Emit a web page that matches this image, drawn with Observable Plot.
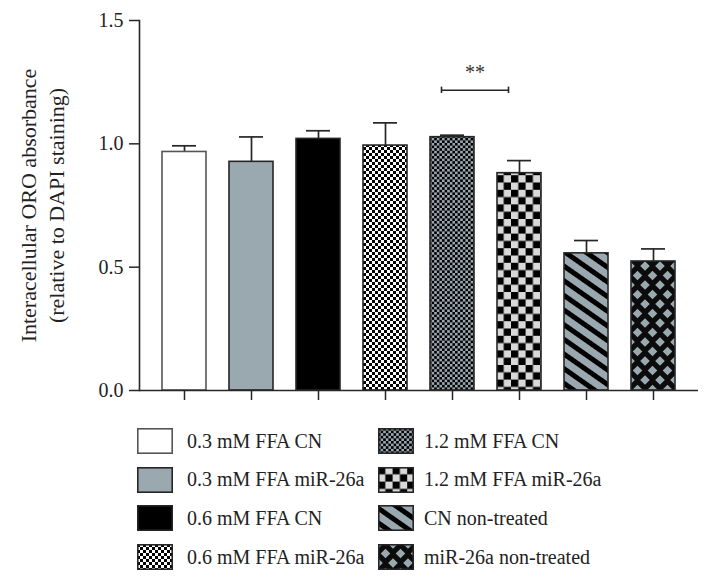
<!DOCTYPE html>
<html><head><meta charset="utf-8">
<script src="https://cdn.jsdelivr.net/npm/d3@7"></script>
<script src="https://cdn.jsdelivr.net/npm/@observablehq/plot@0.6"></script>
<style>
body{margin:0;background:#fff;font-family:"Liberation Serif",serif;}
#legend{position:relative;width:710px;height:176px;}
.item{position:absolute;display:flex;align-items:center;height:25px;font-size:20px;color:#222;white-space:nowrap;}
.item svg{display:block}
</style></head><body>
<div id="chart"></div><div id="legend"></div>
<script>
// ---- data ----
const categories = ["0.3 mM FFA CN","0.3 mM FFA miR-26a","0.6 mM FFA CN","0.6 mM FFA miR-26a","1.2 mM FFA CN","1.2 mM FFA miR-26a","CN non-treated","miR-26a non-treated"];
const means   = [0.967, 0.927, 1.020, 0.993, 1.027, 0.881, 0.556, 0.523];
const errTops = [0.992, 1.028, 1.053, 1.085, 1.035, 0.932, 0.608, 0.574];
const yTicks = [0, 0.5, 1.0, 1.5];
const sigFrom = "1.2 mM FFA CN";
const sigTo = "1.2 mM FFA miR-26a";
const sigY = 1.217;
const sigLabel = "**";
const yLabel = "Interacellular ORO absorbance\n(relative to DAPI staining)";

// ---- styles ----
const GREY = "#9aa8b0";
const INK = "#262626";
const paint = {
  "0.3 mM FFA CN": "#ffffff",
  "0.3 mM FFA miR-26a": GREY,
  "0.6 mM FFA CN": "#000000",
  "0.6 mM FFA miR-26a": "url(#pCheckFine)",
  "1.2 mM FFA CN": "url(#pCheckGrey)",
  "1.2 mM FFA miR-26a": "url(#pCheckLarge)",
  "CN non-treated": "url(#pStripes)",
  "miR-26a non-treated": "url(#pDiamonds)"
};
const strokeOf = c => c === "0.3 mM FFA CN" ? "#555" : INK;

function defsMark() {
  const d = d3.create("svg:defs");
  function checker(id, s, c1, c2) {
    const p = d.append("pattern").attr("id", id).attr("patternUnits", "userSpaceOnUse")
      .attr("width", 2 * s).attr("height", 2 * s);
    p.append("rect").attr("width", 2 * s).attr("height", 2 * s).attr("fill", c2);
    p.append("rect").attr("width", s).attr("height", s).attr("fill", c1);
    p.append("rect").attr("x", s).attr("y", s).attr("width", s).attr("height", s).attr("fill", c1);
  }
  checker("pCheckFine", 3, "#000", "#fff");
  checker("pCheckGrey", 2.6, "#000", GREY);
  checker("pCheckLarge", 7.3, "#000", "#d9d9d9");
  const s = d.append("pattern").attr("id", "pStripes").attr("patternUnits", "userSpaceOnUse")
    .attr("width", 12).attr("height", 12).attr("patternTransform", "rotate(35)");
  s.append("rect").attr("width", 12).attr("height", 12).attr("fill", GREY);
  s.append("rect").attr("width", 12).attr("height", 5).attr("fill", "#000");
  const w = 15, h = 19, r = 4.8;
  const m = d.append("pattern").attr("id", "pDiamonds").attr("patternUnits", "userSpaceOnUse")
    .attr("width", w).attr("height", h);
  m.append("rect").attr("width", w).attr("height", h).attr("fill", "#0c0c0c");
  const dm = (cx, cy) => `M${cx},${cy - r}L${cx + r},${cy}L${cx},${cy + r}L${cx - r},${cy}Z`;
  m.append("path").attr("fill", GREY)
    .attr("d", [dm(w / 2, h / 2), dm(0, 0), dm(w, 0), dm(0, h), dm(w, h)].join(""));
  return d.node();
}

const data = categories.map((c, i) => ({cat: c, mean: means[i], top: errTops[i]}));

const chart = Plot.plot({
  width: 710, height: 410,
  marginLeft: 139, marginRight: 12, marginTop: 20, marginBottom: 20,
  style: {fontFamily: "'Liberation Serif', serif", fontSize: "20px", color: "#222", background: "white", overflow: "visible"},
  x: {domain: categories, padding: 0.343, axis: null},
  y: {domain: [0, 1.5], axis: null},
  color: {type: "identity"},
  marks: [
    defsMark,
    Plot.ruleX(data, {x: "cat", y1: "mean", y2: "top", stroke: INK, strokeWidth: 1.7}),
    Plot.tickY(data, {x: "cat", y: "top", insetLeft: 10, insetRight: 10, stroke: INK, strokeWidth: 1.7}),
    Plot.barY(data, {x: "cat", y: "mean", fill: d => paint[d.cat], stroke: d => strokeOf(d.cat), strokeWidth: 1.6}),
    Plot.axisY({ticks: yTicks, tickFormat: d3.format(".1f"), tickSize: 10, tickPadding: 6, fontSize: 20, label: null, stroke: INK, strokeWidth: 1.5}),
    Plot.axisX({tickSize: 10, tickFormat: () => "", label: null, stroke: INK, strokeWidth: 1.5}),
    Plot.frame({anchor: "left", stroke: INK, strokeWidth: 1.6}),
    Plot.ruleY([0], {stroke: INK, strokeWidth: 1.6}),
    Plot.link([{a: sigFrom, b: sigTo}], {x1: "a", x2: "b", y1: sigY, y2: sigY, dx: -11, stroke: INK, strokeWidth: 1.6}),
    Plot.ruleX([sigFrom, sigTo], {x: d => d, y1: sigY - 0.013, y2: sigY + 0.013, dx: -11, stroke: INK, strokeWidth: 1.6}),
    Plot.text([sigLabel], {x: () => sigFrom, y: () => sigY + 0.07, text: d => d, dx: 22.5, fontSize: 20, fill: "#333", lineAnchor: "middle"}),
    Plot.text([yLabel], {frameAnchor: "left", dx: -98, rotate: -90, textAnchor: "middle", text: d => d, fontSize: 22, lineHeight: 28 / 22, fill: "#222"})
  ]
});
document.getElementById("chart").appendChild(chart);

// ---- legend ----
const legend = d3.select("#legend");
categories.forEach((c, i) => {
  const col = Math.floor(i / 4), row = i % 4;
  const item = legend.append("div").attr("class", "item")
    .style("left", (col ? 378 : 137) + "px")
    .style("top", (18.5 + row * 38.7) + "px");
  const sv = item.append("svg").attr("width", 36).attr("height", 26)
    .style("margin-right", (col ? 10 : 14) + "px");
  sv.append("rect").attr("x", 0.8).attr("y", 0.8).attr("width", 34.4).attr("height", 24.4)
    .attr("fill", paint[c]).attr("stroke", strokeOf(c)).attr("stroke-width", 1.6);
  item.append("span").text(c);
});
</script>
</body></html>
